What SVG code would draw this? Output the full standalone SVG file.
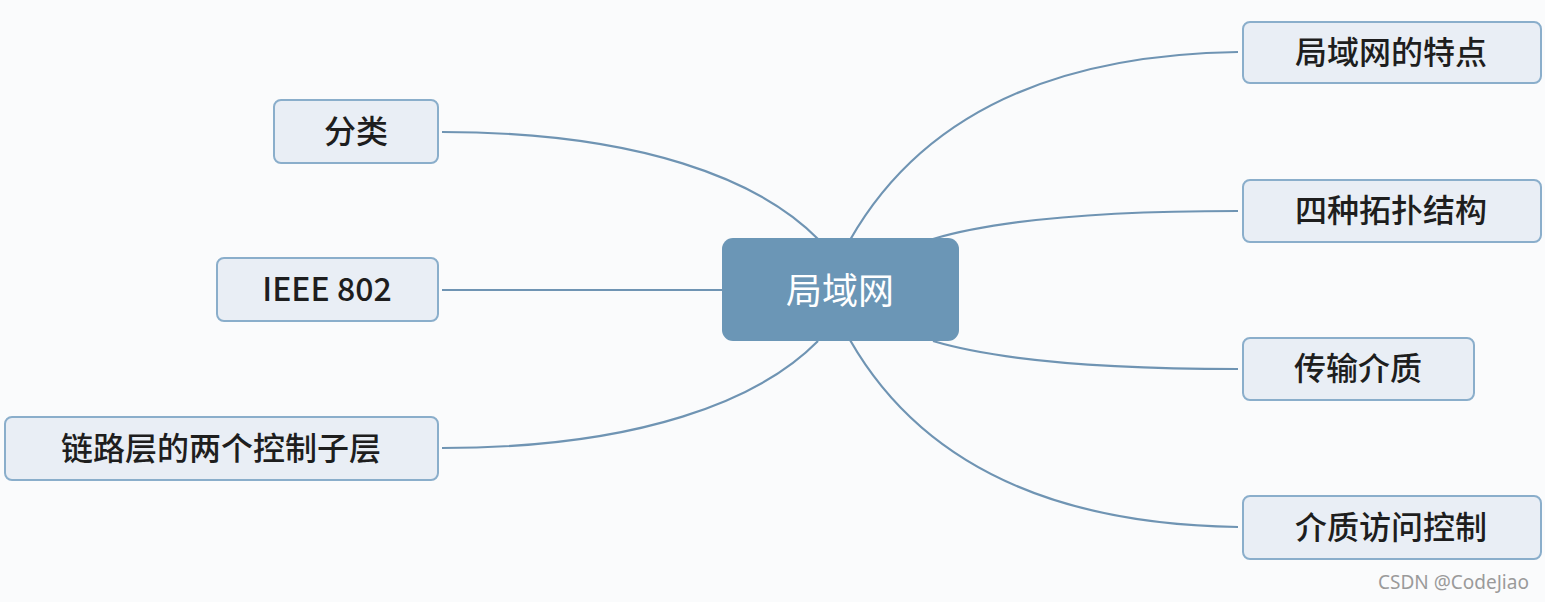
<svg xmlns="http://www.w3.org/2000/svg" width="1545" height="602" viewBox="0 0 1545 602">
<style>
.leaf rect{fill:#e9eef5;stroke:#8aaecb;stroke-width:2}
.leaf text{font-family:"Noto Sans CJK SC","Noto Sans",sans-serif;font-size:32px;font-weight:500;fill:#1e1e1e;text-anchor:middle}
.root rect{fill:#6b96b6}
.root text{font-family:"Noto Sans CJK SC","Noto Sans",sans-serif;font-size:36px;fill:#ffffff;text-anchor:middle}
.conn path{fill:none;stroke:#6f94b3;stroke-width:2.2}
.wm{font-family:"Noto Sans","Noto Sans CJK SC",sans-serif;font-size:19px;fill:#9a9a9a}
</style>
<rect width="1545" height="602" fill="#fafbfc"/>
<g id="connectors" class="conn">
<path d="M850,240 Q955,56 1238,52"/>
<path d="M933,239 C990,222 1080,211 1238,211"/>
<path d="M933,341 C990,358 1080,369 1238,369"/>
<path d="M850,340 Q955,523 1238,527"/>
<path d="M818,239 C760,180 640,132 442,132"/>
<path d="M722,290 L442,290"/>
<path d="M818,341 C760,400 640,448 442,448"/>
</g>
<g id="root" class="root">
<rect x="722" y="238" width="237" height="103" rx="11"/>
<text x="840" y="304">局域网</text>
</g>
<g id="n1" class="leaf">
<rect x="1243" y="22" width="298" height="61" rx="7"/>
<text x="1391" y="64">局域网的特点</text>
</g>
<g id="n2" class="leaf">
<rect x="1243" y="180" width="298" height="62" rx="7"/>
<text x="1391" y="222">四种拓扑结构</text>
</g>
<g id="n3" class="leaf">
<rect x="1243" y="338" width="231" height="62" rx="7"/>
<text x="1358" y="380">传输介质</text>
</g>
<g id="n4" class="leaf">
<rect x="1243" y="496" width="298" height="63" rx="7"/>
<text x="1391" y="539">介质访问控制</text>
</g>
<g id="n5" class="leaf">
<rect x="274" y="100" width="164" height="63" rx="7"/>
<text x="356" y="143">分类</text>
</g>
<g id="n6" class="leaf">
<rect x="217" y="258" width="221" height="63" rx="7"/>
<text x="327" y="301">IEEE 802</text>
</g>
<g id="n7" class="leaf">
<rect x="5" y="417" width="433" height="63" rx="7"/>
<text x="221" y="460">链路层的两个控制子层</text>
</g>
<text class="wm" x="1378" y="589">CSDN @CodeJiao</text>
</svg>
